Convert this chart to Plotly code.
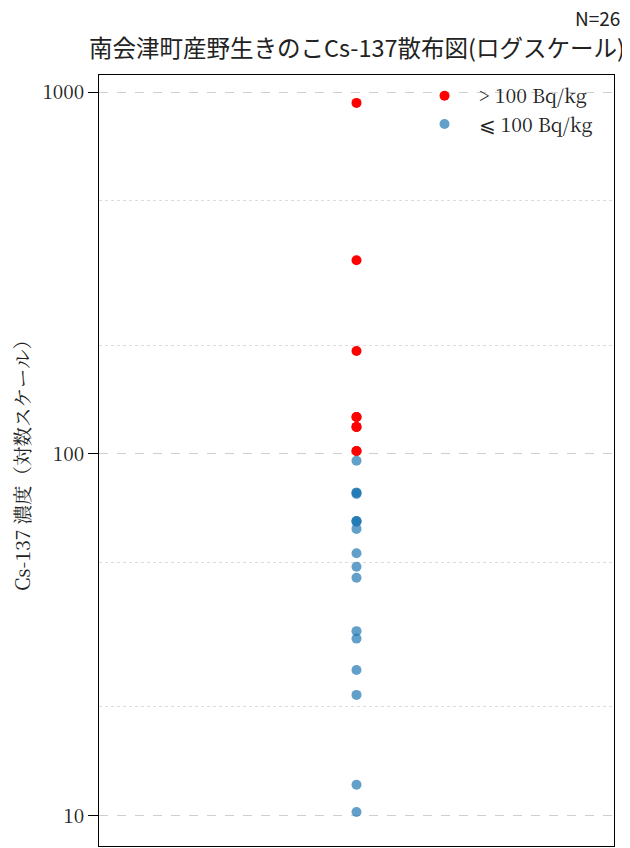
import plotly.graph_objects as go

# Data (Cs-137, Bq/kg)
high_values = [933, 343, 192.5, 126.5, 118.8, 101.9, 126.5, 118.8, 101.9]
low_values = [95.8, 78.2, 78.2, 77.5, 65.3, 65.3, 65.0, 62.1, 53.2, 48.8,
              45.5, 32.4, 30.9, 25.3, 21.6, 12.2, 10.26]
group = "南会津町"
n_total = len(high_values) + len(low_values)

title_text = "南会津町産野生きのこCs-137散布図(ログスケール)"
y_label = "Cs-137 濃度（対数スケール）"
major_ticks = [10, 100, 1000]
minor_ticks = [20, 50, 200, 500]

serif = "Noto Serif CJK JP, Liberation Serif, DejaVu Serif, serif"
sans = "Noto Sans CJK JP, Noto Sans, DejaVu Sans, sans-serif"

fig = go.Figure()
fig.add_trace(go.Scatter(
    x=[group] * len(high_values), y=high_values, mode="markers",
    name="> 100 Bq/kg",
    marker=dict(color="red", size=10, line=dict(width=0)),
))
fig.add_trace(go.Scatter(
    x=[group] * len(low_values), y=low_values, mode="markers",
    name="⩽ 100 Bq/kg",
    marker=dict(color="rgba(31,119,180,0.7)", size=10, line=dict(width=0)),
))

fig.update_layout(
    width=630, height=848,
    margin=dict(l=91, r=24, t=67, b=10, autoexpand=False),
    paper_bgcolor="white", plot_bgcolor="white",
    title=dict(text=title_text, x=0.501, xanchor="center", y=0.952, yanchor="middle",
               xref="paper",
               font=dict(family=sans, size=23.5, color="#222")),
    showlegend=True,
    legend=dict(x=0.968, y=0.998, xanchor="right", yanchor="top",
                bgcolor="rgba(0,0,0,0)", borderwidth=0,
                font=dict(family=serif, size=19.5, color="#222"),
                itemwidth=58, tracegroupgap=2),
    annotations=[dict(text=f"N={n_total}", xref="paper", yref="paper",
                      x=1.015, y=1.075, xanchor="right", yanchor="middle",
                      showarrow=False, font=dict(family=sans, size=19, color="#222"))],
)

fig.update_xaxes(
    type="category", showticklabels=False, ticks="", showgrid=False,
    showline=True, linecolor="black", linewidth=1, mirror=True, zeroline=False,
)
fig.update_yaxes(
    type="log", range=[0.917, 3.047],
    tickvals=major_ticks, ticktext=[str(v) for v in major_ticks],
    ticks="outside", ticklen=10, tickcolor="black",
    tickfont=dict(family=serif, size=19, color="#222"),
    showline=True, linecolor="black", linewidth=1, mirror=True,
    showgrid=True, gridcolor="#cfcfcf", griddash="dash", gridwidth=1,
    minor=dict(tickvals=minor_ticks, showgrid=True, gridcolor="#dddddd",
               griddash="dot", gridwidth=1, ticks=""),
    title=dict(text=y_label, font=dict(family=serif, size=19.5, color="#222"), standoff=34),
    zeroline=False,
)

fig.write_html("out.html")
